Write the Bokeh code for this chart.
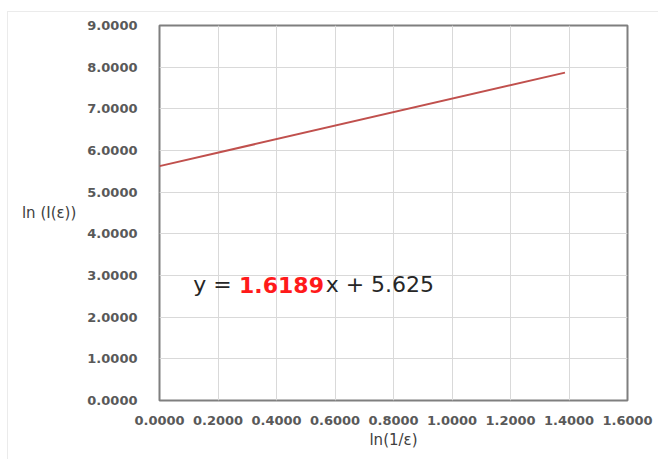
from bokeh.plotting import figure
from bokeh.models import Label, NumeralTickFormatter, FixedTicker, Range1d
from bokeh.embed import file_html
from bokeh.resources import INLINE

# data
x_vals = [0.0, 1.3863]
y_vals = [5.625, 7.869]
x_ticks = [0.0, 0.2, 0.4, 0.6, 0.8, 1.0, 1.2, 1.4, 1.6]
y_ticks = [0, 1, 2, 3, 4, 5, 6, 7, 8, 9]
eq_parts = ["y = ", "1.6189", "x + 5.625"]
x_label = "ln(1/ε)"
y_label = "ln (I(ε))"

p = figure(width=650, height=447, frame_width=468, frame_height=375,
           min_border_left=151, min_border_right=31, min_border_top=13, min_border_bottom=59,
           x_range=Range1d(0, 1.6), y_range=Range1d(0, 9),
           output_backend="svg", toolbar_location=None)
p.styles = {"border-top": "1px solid #ebebeb", "border-left": "1px solid #ebebeb",
            "margin-left": "7px", "margin-top": "11px"}

p.line(x_vals, y_vals, line_color="#c0504d", line_width=2)

for ax in (p.xaxis, p.yaxis):
    ax.axis_line_color = None
    ax.major_tick_line_color = None
    ax.minor_tick_line_color = None
    ax.major_label_text_font = "DejaVu Sans"
    ax.major_label_text_font_style = "bold"
    ax.major_label_text_font_size = "13px"
    ax.major_label_text_color = "#595959"
    ax.formatter = NumeralTickFormatter(format="0.0000")
    ax.axis_label_text_font = "DejaVu Sans"
    ax.axis_label_text_font_style = "normal"
    ax.axis_label_text_font_size = "15px"
    ax.axis_label_text_color = "#404040"

p.xaxis.ticker = FixedTicker(ticks=x_ticks)
p.yaxis.ticker = FixedTicker(ticks=y_ticks)
p.yaxis.major_label_standoff = 16
p.xaxis.major_label_standoff = 9

p.xaxis.axis_label = x_label
p.xaxis.axis_label_standoff = 3
p.yaxis.axis_label = y_label
p.yaxis.axis_label_orientation = "horizontal"
p.yaxis.axis_label_standoff = 8

p.xgrid.grid_line_color = "#d9d9d9"
p.ygrid.grid_line_color = "#d9d9d9"
p.xgrid.ticker = FixedTicker(ticks=x_ticks)
p.ygrid.ticker = FixedTicker(ticks=y_ticks)

p.outline_line_color = "#7f7f7f"
p.outline_line_width = 2
p.outline_line_alpha = 1.0

eq_x = [0.115, 0.272, 0.568]
eq_colors = ["#262626", "#ff1a1a", "#262626"]
eq_styles = ["normal", "bold", "normal"]
for t, xx, c, s in zip(eq_parts, eq_x, eq_colors, eq_styles):
    p.add_layout(Label(x=xx, y=2.784, text=t, text_font="DejaVu Sans", text_font_size="22px",
                       text_color=c, text_font_style=s, text_baseline="middle"))

open("out.html", "w").write(file_html(p, INLINE))
